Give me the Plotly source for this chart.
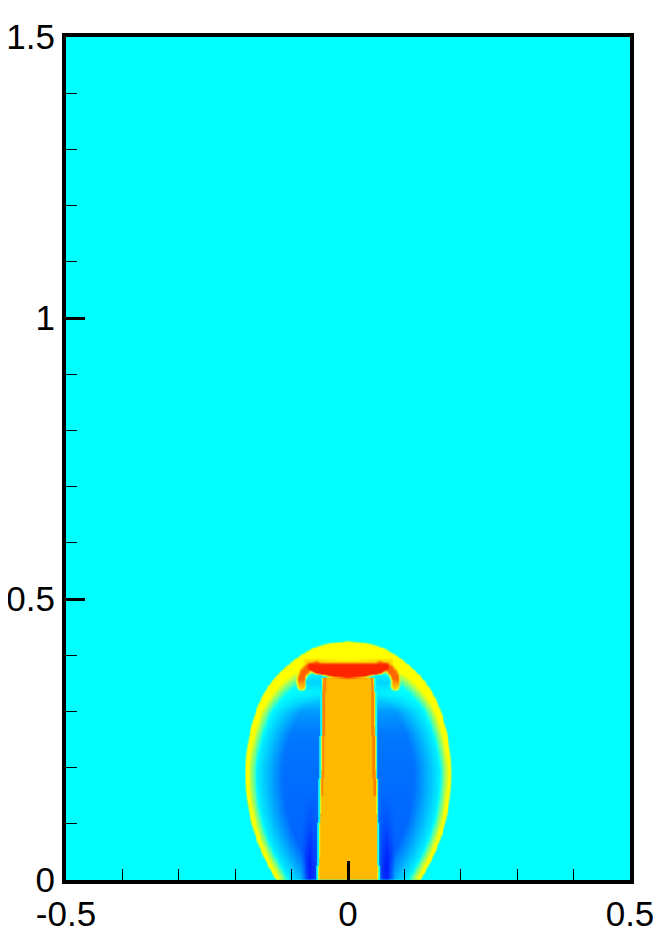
import numpy as np
import plotly.graph_objects as go

# outer bow shock, half width at each height
shock_y = [-0.04, 0.0, 0.05, 0.10, 0.15, 0.20, 0.25, 0.30, 0.33, 0.36, 0.39, 0.41, 0.42, 0.426]
shock_half = [0.105, 0.128, 0.155, 0.172, 0.181, 0.183, 0.178, 0.165, 0.152, 0.132, 0.100, 0.070, 0.045, 0.0]

# yellow shell thickness behind the shock
shell_y = [0.0, 0.20, 0.30, 0.36, 0.40, 0.43]
shell_thick = [0.005, 0.005, 0.009, 0.016, 0.030, 0.040]

# depth of the blue cocoon
cocoon_y = [0.0, 0.10, 0.20, 0.26, 0.30, 0.34]
cocoon_depth = [0.19, 0.18, 0.17, 0.16, 0.12, 0.0]

# extra dark blue next to the jet near the nozzle
dark_y = [0.0, 0.04, 0.10, 0.16]
dark_amt = [0.14, 0.08, 0.03, 0.0]

# jet column
jet_y = [0.0, 0.361]
jet_half = [0.053, 0.046]
jet_top = 0.361

# red cap at the head of the jet
cap_x = [-0.070, -0.06, -0.03, 0.0, 0.03, 0.06, 0.070]
cap_bottom = [0.375, 0.368, 0.361, 0.359, 0.361, 0.368, 0.375]
cap_top = 0.387

# hooks rolling back from the cap (right side, mirrored)
hook_x = [0.056, 0.070, 0.079, 0.084, 0.083]
hook_y = [0.383, 0.379, 0.370, 0.358, 0.346]

# field levels on the colour scale
v_ambient, v_shell, v_jet, v_hook, v_cap = 0.35, 0.65, 0.745, 0.86, 0.95

colorscale = [[0.0, "rgb(0,0,240)"], [0.10, "rgb(0,45,255)"], [0.35, "rgb(0,255,255)"],
              [0.65, "rgb(255,255,0)"], [1.0, "rgb(255,0,0)"]]


def chaikin(px, py, n=2):
    px, py = np.asarray(px, float), np.asarray(py, float)
    for _ in range(n):
        qx = np.ravel(np.column_stack([0.75 * px[:-1] + 0.25 * px[1:], 0.25 * px[:-1] + 0.75 * px[1:]]))
        qy = np.ravel(np.column_stack([0.75 * py[:-1] + 0.25 * py[1:], 0.25 * py[:-1] + 0.75 * py[1:]]))
        px = np.concatenate([[px[0]], qx, [px[-1]]])
        py = np.concatenate([[py[0]], qy, [py[-1]]])
    return px, py


def seg_dist(px, py, sx, sy):
    ax_, ay, bx, by = sx[:-1], sy[:-1], sx[1:], sy[1:]
    dx, dy = bx - ax_, by - ay
    l2 = dx * dx + dy * dy
    out = np.empty(px.shape)
    for i in range(0, px.size, 20000):
        qx = px.flat[i:i + 20000][:, None]
        qy = py.flat[i:i + 20000][:, None]
        t = np.clip(((qx - ax_) * dx + (qy - ay) * dy) / l2, 0, 1)
        d = np.sqrt((qx - ax_ - t * dx) ** 2 + (qy - ay - t * dy) ** 2)
        out.flat[i:i + 20000] = d.min(axis=1)
    return out


xs = np.arange(-0.24, 0.2401, 0.0015)
ys = np.arange(0.0, 0.4501, 0.0015)
X, Y = np.meshgrid(xs, ys)
AX = np.abs(X)

# signed distance to the bow shock (positive inside)
sx, sy = chaikin(shock_half, shock_y)
dist = seg_dist(AX, Y, sx, sy)
inside = (Y <= sy[-1]) & (AX < np.interp(Y, sy, sx))
d = np.where(inside, dist, -dist)

t = np.interp(Y, shell_y, shell_thick)
edge = np.clip((d + 0.0015) / 0.003, 0, 1)
decay = np.clip((d - t) / (t + 0.010), 0, 1)
v = v_ambient + (v_shell - v_ambient) * edge * (1 - decay)
blue = np.clip((d - 2 * t - 0.006) / 0.05, 0, 1) * np.interp(Y, cocoon_y, cocoon_depth)
v = v - blue * inside

# jet and its surroundings
jh = np.interp(Y, jet_y, jet_half)
jd = AX - jh
below = Y < jet_top
bump = np.clip(1 - np.abs(jd - 0.016) / 0.015, 0, 1)
v = v - np.interp(Y, dark_y, dark_amt) * bump * below
pocket = np.clip(1 - np.abs(Y - 0.352) / 0.022, 0, 1) * ((jd > 0) & (AX < 0.08))
v = v * (1 - pocket) + 0.30 * pocket
v = np.where(below & (jd >= 0) & (jd < 0.003), 0.37, v)
v = np.where(below & (jd < 0) & (jd > -0.0012), 0.66, v)
v = np.where(below & (jd <= -0.0012), v_jet, v)
v = np.where(below & (jd < -0.0015) & (jd > -0.006) & (Y > 0.15), 0.82, v)

# hooks
hx, hy = chaikin(hook_x, hook_y)
hd = seg_dist(AX, Y, hx, hy)
a = np.clip((1 - hd / 0.010) * 2, 0, 1)
hook_val = v_hook - 0.12 * np.clip((0.358 - Y) / 0.012, 0, 1)
v = v * (1 - a) + hook_val * a

# orange halo and red cap
cb = np.interp(X, cap_x, cap_bottom)
m = np.minimum(np.minimum(cap_top - Y, Y - cb), 0.072 - AX)
halo = np.clip(m / 0.009 + 1, 0, 1) * (Y > 0.372)
v = np.maximum(v, v * (1 - halo) + 0.73 * halo)
w = np.clip(m / 0.004 + 0.4, 0, 1)
v = v * (1 - w) + v_cap * w

z = np.round(v, 3)

fig = go.Figure(go.Heatmap(x=np.round(xs, 4), y=np.round(ys, 4), z=z, zmin=0, zmax=1,
                           colorscale=colorscale, zsmooth="best", showscale=False,
                           hoverinfo="skip"))

font = dict(family="Liberation Sans, Arial, sans-serif", size=35, color="black")
axis_style = dict(ticks="inside", ticklen=19, tickwidth=3, tickcolor="black",
                  minor=dict(ticks="inside", ticklen=11, tickwidth=1, tickcolor="black", dtick=0.1, tick0=0),
                  showline=True, linewidth=4, linecolor="black", mirror=True,
                  showgrid=False, zeroline=False, tickfont=font, automargin=False)
fig.update_xaxes(range=[-0.5, 0.5], tickvals=[-0.5, 0, 0.5], ticktext=["-0.5", "0", "0.5"], **axis_style)
fig.update_yaxes(range=[0, 1.5], tickvals=[0, 0.5, 1, 1.5], ticktext=["0", "0.5", "1", "1.5"], **axis_style)
# the page adds an 8px body margin, so the figure is a little smaller than the window
fig.update_layout(width=657, height=920, margin=dict(l=58, r=35, t=29, b=48),
                  paper_bgcolor="white", plot_bgcolor="rgb(0,255,255)", showlegend=False)

fig.write_html("out.html")
